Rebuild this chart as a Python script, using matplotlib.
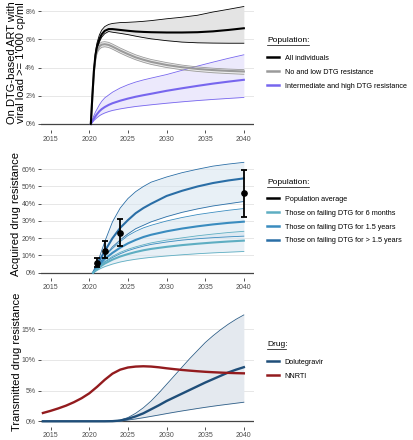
import matplotlib
matplotlib.use("Agg")
import matplotlib.pyplot as plt
from matplotlib.lines import Line2D

plt.rcParams['font.family'] = ['Liberation Sans', 'DejaVu Sans']

# ---------------- Panel 1 data (% on DTG-based ART with VL >= 1000) -------------
years1 = [2020.2, 2020.4, 2020.6, 2020.8, 2021.0, 2021.3, 2021.6, 2022.0, 2022.5, 2023,
          2024, 2025, 2026, 2027, 2028, 2030, 2032, 2034, 2036, 2038, 2040]
all_mid = [0, 2.0, 3.8, 4.9, 5.5, 6.0, 6.35, 6.6, 6.72, 6.72, 6.66, 6.6, 6.55, 6.52, 6.5,
           6.48, 6.48, 6.5, 6.56, 6.66, 6.78]
all_hi = [0, 2.1, 3.95, 5.1, 5.75, 6.3, 6.65, 6.9, 7.05, 7.12, 7.18, 7.2, 7.23, 7.27, 7.32,
          7.45, 7.56, 7.7, 7.93, 8.12, 8.32]
all_lo = [0, 1.9, 3.7, 4.75, 5.3, 5.8, 6.15, 6.4, 6.55, 6.5, 6.42, 6.33, 6.22, 6.12, 6.03,
          5.9, 5.8, 5.75, 5.73, 5.72, 5.72]
low_mid = [0, 2.0, 3.7, 4.7, 5.2, 5.5, 5.62, 5.65, 5.6, 5.48, 5.2, 4.95, 4.72, 4.55, 4.4,
           4.18, 4.02, 3.9, 3.82, 3.76, 3.72]
low_hi = [0, 2.1, 3.85, 4.88, 5.38, 5.68, 5.8, 5.83, 5.78, 5.66, 5.38, 5.13, 4.9, 4.72, 4.57,
          4.35, 4.17, 4.04, 3.95, 3.89, 3.85]
low_lo = [0, 1.9, 3.55, 4.55, 5.02, 5.3, 5.43, 5.47, 5.42, 5.3, 5.02, 4.77, 4.55, 4.37, 4.22,
          4.0, 3.84, 3.72, 3.63, 3.57, 3.52]
high_mid = [0, 0.2, 0.38, 0.55, 0.7, 0.9, 1.05, 1.2, 1.35, 1.47, 1.65, 1.8, 1.93, 2.04, 2.14,
            2.35, 2.53, 2.7, 2.86, 3.0, 3.13]
high_hi = [0, 0.3, 0.6, 0.85, 1.05, 1.35, 1.6, 1.85, 2.05, 2.25, 2.55, 2.78, 2.97, 3.12, 3.25,
           3.5, 3.8, 4.1, 4.38, 4.65, 4.9]
high_lo = [0, 0.12, 0.25, 0.35, 0.45, 0.58, 0.68, 0.78, 0.88, 0.96, 1.07, 1.16, 1.24, 1.3,
           1.36, 1.47, 1.57, 1.66, 1.74, 1.81, 1.88]
labels1 = ["All individuals", "No and low DTG resistance", "Intermediate and high DTG resistance"]

# ---------------- Panel 2 data (acquired drug resistance, %) ----------------
years2 = [2020.5, 2021, 2021.5, 2022, 2023, 2024, 2025, 2026, 2027, 2028, 2030, 2032, 2034,
          2036, 2038, 2040]
gt_hi = [0, 5, 11.5, 18, 29.5, 37.5, 43, 47, 50, 52.5, 55.5, 58, 60, 61.8, 63, 64]
gt_mid = [0, 4.5, 8.5, 12.5, 20, 26, 30.5, 34.5, 37.5, 40, 44.5, 47.5, 50, 52, 53.5, 54.7]
gt_lo = [0, 3.5, 6.5, 9.5, 15, 19, 22.5, 25.5, 27.5, 29.5, 32.5, 35, 37, 38.7, 40, 41.3]
y15_hi = [0, 3.2, 6.5, 9.5, 14, 18, 21.5, 24, 26, 27.5, 30, 32, 33.7, 35, 36.2, 37.2]
y15_mid = [0, 2.8, 5.5, 8, 11.5, 14.5, 17, 19, 20.7, 22, 24, 25.6, 26.9, 28, 28.9, 29.6]
y15_lo = [0, 2.2, 4.3, 6.2, 8.8, 11, 12.8, 14.2, 15.4, 16.4, 17.8, 18.9, 19.7, 20.3, 20.8, 21.2]
m6_hi = [0, 2.5, 4.7, 6.5, 9.5, 11.8, 13.6, 15, 16.2, 17.3, 18.9, 20.2, 21.4, 22.4, 23.3, 24]
m6_mid = [0, 2, 3.8, 5.3, 7.6, 9.4, 10.8, 12, 13, 13.8, 15, 16, 16.8, 17.5, 18.1, 18.6]
m6_lo = [0, 1.3, 2.5, 3.5, 5, 6.2, 7.1, 7.8, 8.4, 8.9, 9.7, 10.4, 11, 11.5, 11.9, 12.3]
obs_years = [2021, 2022, 2024, 2040]
obs_val = [5.8, 12.6, 22.9, 46.1]
obs_lo = [3.4, 8.3, 15.5, 32.2]
obs_hi = [8.6, 18.4, 31.0, 59.3]
labels2 = ["Population average", "Those on failing DTG for 6 months",
           "Those on failing DTG for 1.5 years", "Those on failing DTG for > 1.5 years"]

# ---------------- Panel 3 data (transmitted drug resistance, %) ----------------
years3 = list(range(2014, 2041))
nnrti = [1.35, 1.7, 2.1, 2.55, 3.1, 3.75, 4.55, 5.6, 6.75, 7.75, 8.4, 8.75, 8.9, 8.95, 8.9,
         8.78, 8.62, 8.48, 8.35, 8.24, 8.14, 8.05, 7.98, 7.92, 7.87, 7.83, 7.8]
dtg_mid = [0, 0, 0, 0, 0, 0, 0, 0, 0, 0.02, 0.12, 0.4, 0.8, 1.3, 1.95, 2.6, 3.3, 3.9, 4.5,
           5.1, 5.7, 6.3, 6.85, 7.4, 7.95, 8.4, 8.8]
dtg_hi = [0, 0, 0, 0, 0, 0, 0, 0, 0, 0.03, 0.2, 0.6, 1.3, 2.2, 3.3, 4.6, 6.0, 7.4, 8.8, 10.2,
          11.5, 12.8, 13.9, 14.9, 15.8, 16.6, 17.3]
dtg_lo = [0, 0, 0, 0, 0, 0, 0, 0, 0, 0.01, 0.07, 0.2, 0.38, 0.58, 0.8, 1.02, 1.25, 1.47,
          1.68, 1.88, 2.08, 2.27, 2.45, 2.62, 2.78, 2.94, 3.1]
labels3 = ["Dolutegravir", "NNRTI"]

xticks = [2015, 2020, 2025, 2030, 2035, 2040]

W, H = 413, 440
fig = plt.figure(figsize=(W / 100, H / 100), dpi=100)


def make_ax(top_px, bottom_px, left_px=41, right_px=253.5):
    return fig.add_axes([left_px / W, 1 - bottom_px / H, (right_px - left_px) / W,
                         (bottom_px - top_px) / H])


def style(ax, yticks, ylim):
    ax.set_xlim(2013.75, 2041.25)
    ax.set_ylim(*ylim)
    ax.set_xticks(xticks)
    ax.set_yticks(yticks)
    ax.set_yticklabels([f"{t}%" for t in yticks])
    for s in ax.spines.values():
        s.set_visible(False)
    ax.tick_params(axis='both', length=2.2, width=0.6, color='#333333', labelsize=5.0,
                   labelcolor='#4d4d4d', pad=1.8)
    ax.grid(axis='y', color='#e3e3e3', lw=0.6, zorder=0)
    ax.set_axisbelow(True)
    ax.axhline(0, color='#444444', lw=0.9, zorder=1)


def legend_block(title, title_y, handles, labels, first_y):
    fig.text(267 / W, 1 - title_y / H, title, fontsize=6, ha='left', va='center')
    tw = len(title) * 3.85
    fig.add_artist(Line2D([267 / W, (267 + tw) / W], [1 - (title_y + 4.5) / H] * 2,
                          color='black', lw=0.5))
    leg = fig.legend(handles, labels, loc='upper left',
                     bbox_to_anchor=(267 / W, 1 - (first_y - 4.3) / H),
                     bbox_transform=fig.transFigure, frameon=False, fontsize=5.25,
                     handlelength=1.65, handletextpad=0.8, labelspacing=0.93,
                     borderpad=0, borderaxespad=0)
    return leg


# ---------------- Panel 1 ----------------
ax1 = make_ax(1, 130)
style(ax1, [0, 2, 4, 6, 8], (-0.425, 8.71))
c_all, c_low, c_high = 'black', '#9a9a9a', '#7766ee'
for lo, mid, hi, c, fc in [(high_lo, high_mid, high_hi, c_high, '#ece9fc'),
                           (low_lo, low_mid, low_hi, c_low, '#ededed'),
                           (all_lo, all_mid, all_hi, c_all, '#e4e4e4')]:
    ax1.fill_between(years1, lo, hi, color=fc, lw=0, zorder=2)
    ax1.plot(years1, lo, color=c, lw=0.6, zorder=3)
    ax1.plot(years1, hi, color=c, lw=0.6, zorder=3)
    ax1.plot(years1, mid, color=c, lw=1.5, zorder=4)
ax1.set_ylabel("On DTG-based ART with\nviral load >= 1'000 cp/ml", fontsize=8.0,
               linespacing=0.95, va='center')
ax1.yaxis.set_label_coords(-0.115, 0.52)
legend_block("Population:", 41,
             [Line2D([], [], color=c, lw=1.8) for c in (c_all, c_low, c_high)],
             labels1, 59)

# ---------------- Panel 2 ----------------
ax2 = make_ax(157, 278.2)
style(ax2, [0, 10, 20, 30, 40, 50, 60], (-3.19, 67.1))
c_6m, c_15, c_gt = '#5eaec2', '#3a8cbf', '#2a6ea6'
for lo, mid, hi, c in [(gt_lo, gt_mid, gt_hi, c_gt), (y15_lo, y15_mid, y15_hi, c_15),
                       (m6_lo, m6_mid, m6_hi, c_6m)]:
    ax2.fill_between(years2, lo, hi, color='#d6e4ef', alpha=0.55, lw=0, zorder=2)
for lo, mid, hi, c in [(gt_lo, gt_mid, gt_hi, c_gt), (y15_lo, y15_mid, y15_hi, c_15),
                       (m6_lo, m6_mid, m6_hi, c_6m)]:
    ax2.plot(years2, lo, color=c, lw=0.6, zorder=3)
    ax2.plot(years2, hi, color=c, lw=0.6, zorder=3)
    ax2.plot(years2, mid, color=c, lw=1.5, zorder=4)
yerr = [[v - l for v, l in zip(obs_val, obs_lo)], [h - v for v, h in zip(obs_val, obs_hi)]]
ax2.errorbar(obs_years, obs_val, yerr=yerr, fmt='o', color='black', ms=3.8,
             elinewidth=1.3, capsize=1.9, capthick=1.3, zorder=6)
ax2.set_ylabel("Acquired drug resistance", fontsize=8.0, va='center')
ax2.yaxis.set_label_coords(-0.118, 0.53)
legend_block("Population:", 183,
             [Line2D([], [], color=c, lw=1.8) for c in ('black', c_6m, c_15, c_gt)],
             labels2, 200)

# ---------------- Panel 3 ----------------
ax3 = make_ax(309.4, 426.6)
style(ax3, [0, 5, 10, 15], (-0.865, 18.2))
c_dtg, c_nnrti = '#1f4e79', '#931b1e'
ax3.fill_between(years3, dtg_lo, dtg_hi, color='#e4e9ef', lw=0, zorder=2)
ax3.plot(years3, dtg_lo, color='#2f5f88', lw=0.6, zorder=3)
ax3.plot(years3, dtg_hi, color='#2f5f88', lw=0.6, zorder=3)
ax3.plot(years3, dtg_mid, color=c_dtg, lw=1.7, zorder=4)
ax3.plot(years3, nnrti, color=c_nnrti, lw=1.7, zorder=5)
ax3.set_ylabel("Transmitted drug resistance", fontsize=8.0, va='center')
ax3.yaxis.set_label_coords(-0.115, 0.55)
legend_block("Drug:", 344,
             [Line2D([], [], color=c, lw=1.8) for c in (c_dtg, c_nnrti)],
             labels3, 363)

fig.savefig("out.png", dpi=100)
